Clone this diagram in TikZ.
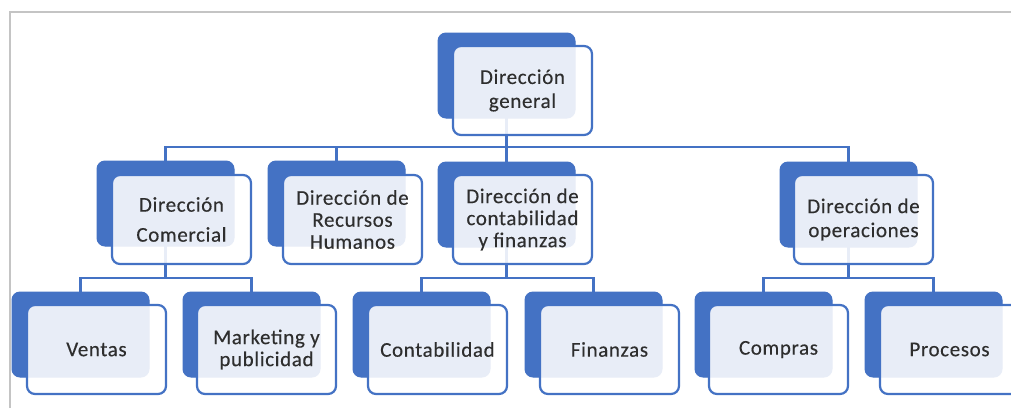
\documentclass[tikz,border=0pt]{standalone}
\usepackage{fontspec}
\setmainfont{Carlito}[LetterSpace=3,FakeBold=0.3]
\definecolor{obl}{HTML}{4472C4}
\definecolor{otx}{HTML}{2E2E2E}
\definecolor{frm}{HTML}{C4C4C4}
\tikzset{
  backbox/.style={fill=obl, draw=obl, line width=1pt, rounded corners=8pt,
    minimum width=137pt, minimum height=85pt, inner sep=0pt, outer sep=0pt, anchor=north west},
  frontbox/.style={fill=white, fill opacity=0.88, text opacity=1, draw=obl, line width=2.2pt,
    rounded corners=8pt, minimum width=139pt, minimum height=89pt, inner sep=0pt, outer sep=0pt,
    anchor=north west, align=center, text=otx, font=\fontsize{21}{24}\selectfont},
  conn/.style={draw=obl, line width=2.2pt},
  frame/.style={draw=frm, line width=1.5pt}
}
\begin{document}
\begin{tikzpicture}[x=1pt,y=-1pt]
\useasboundingbox (0,0) rectangle (1011,408);
\clip (0,0) rectangle (1011,408);
\fill[white] (0,0) rectangle (1011,408);
\draw[frame] (10,408) -- (10,12) -- (1011,12);
% back boxes
\node[backbox] (genb) at (438,33) {};
\node[backbox] (comb) at (97,161) {};
\node[backbox] (rhb) at (268,161) {};
\node[backbox] (cfb) at (438,162) {};
\node[backbox] (opb) at (780,162) {};
\node[backbox] (venb) at (12,292) {};
\node[backbox] (mktb) at (183,292) {};
\node[backbox] (contb) at (353,292) {};
\node[backbox] (finb) at (525,292) {};
\node[backbox] (compb) at (695,292) {};
\node[backbox] (procb) at (865,292) {};
% connectors
\draw[conn] (genb.south) -- ++(0,29) coordinate (g1);
\draw[conn] (g1) -| (comb.north);
\draw[conn] (g1) -| (rhb.north);
\draw[conn] (g1) -- (cfb.north);
\draw[conn] (g1) -| (opb.north);
\draw[conn] (comb.south) -- ++(0,32) coordinate (c1);
\draw[conn] (c1) -| (venb.north);
\draw[conn] (c1) -| (mktb.north);
\draw[conn] (cfb.south) -- ++(0,31) coordinate (f1);
\draw[conn] (f1) -| (contb.north);
\draw[conn] (f1) -| (finb.north);
\draw[conn] (opb.south) -- ++(0,31) coordinate (o1);
\draw[conn] (o1) -| (compb.north);
\draw[conn] (o1) -| (procb.north);
% front boxes
\node[frontbox] (gen) at (453,46) {Dirección\\general};
\node[frontbox] (com) at (112,175) {Dirección\\[6pt]Comercial};
\node[frontbox] (rh) at (283,175) {Dirección de\\[-2pt]Recursos\\[-2pt]Humanos};
\node[frontbox] (cf) at (453,175) {Dirección de\\[-2pt]contabilidad\\[-2pt]y finanzas};
\node[frontbox] (op) at (794,175) {Dirección de\\operaciones};
\node[frontbox] (ven) at (27,305) {Ventas};
\node[frontbox] (mkt) at (197,305) {Marketing y\\[-2pt]publicidad};
\node[frontbox] (cont) at (368,305) {Contabilidad};
\node[frontbox] (fin) at (540,305) {Finanzas};
\node[frontbox] (comp) at (709,305) {Compras};
\node[frontbox] (proc) at (880,305) {Procesos};
\end{tikzpicture}
\end{document}
